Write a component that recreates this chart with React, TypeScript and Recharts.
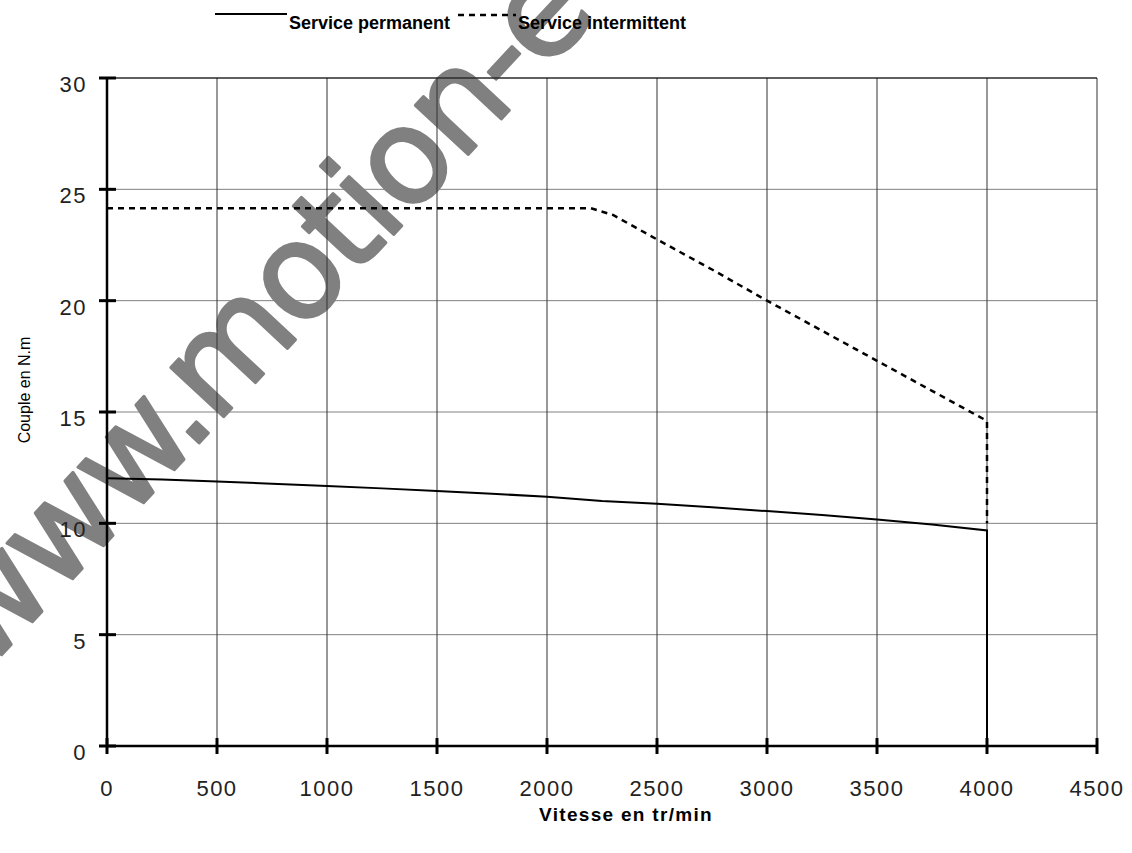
import { LineChart, Line, XAxis, YAxis, CartesianGrid, ReferenceLine, Label } from 'recharts';

// vitesse (tr/min) / couple (N.m)
const permSpeed = [0, 250, 500, 750, 1000, 1250, 1500, 1750, 2000, 2250, 2500, 2750, 3000, 3250, 3500, 3750, 4000, 4000];
const permTorque = [12.03, 11.97, 11.88, 11.78, 11.68, 11.57, 11.45, 11.33, 11.19, 11.0, 10.88, 10.72, 10.55, 10.37, 10.17, 9.95, 9.68, 0];

const interSpeed = [0, 500, 1000, 1500, 2000, 2200, 2300, 2400, 2500, 2750, 3000, 3250, 3500, 3750, 4000, 4000];
const interTorque = [24.15, 24.15, 24.15, 24.15, 24.15, 24.15, 23.85, 23.3, 22.75, 21.4, 20.0, 18.65, 17.3, 15.95, 14.6, 10.0];

const xTicks = [0, 500, 1000, 1500, 2000, 2500, 3000, 3500, 4000, 4500];
const yTicks = [0, 5, 10, 15, 20, 25, 30];

const permData = permSpeed.map((x, i) => ({ x, y: permTorque[i] }));
const interData = interSpeed.map((x, i) => ({ x, y: interTorque[i] }));

const FONT = '"Liberation Sans", Arial, sans-serif';
const tickFont = { fontFamily: FONT, fontSize: 22, letterSpacing: 1.5, fill: '#222' };

const XTick = ({ x, y, payload }: any) => (
  <g>
    <line x1={x} x2={x} y1={y - 8} y2={y + 8} stroke="#000" strokeWidth={3} />
    <text x={x} y={y + 50} textAnchor="middle" {...tickFont}>{payload.value}</text>
  </g>
);

const YTick = ({ x, y, payload }: any) => (
  <g>
    <line x1={x - 8} x2={x + 9} y1={y} y2={y} stroke="#000" strokeWidth={3} />
    <text x={x - 20} y={y + 14} textAnchor="end" {...tickFont}>{payload.value}</text>
  </g>
);

export default function App() {
  return (
    <div style={{ position: 'absolute', left: 0, top: 0, width: 1132, height: 853, background: '#fff', overflow: 'hidden' }}>
      {/* watermark, behind the chart */}
      <svg width={1132} height={853} style={{ position: 'absolute', left: 0, top: 0 }}>
        <g transform="translate(193,432) rotate(-47)" fill="#808080" stroke="#808080" strokeWidth={3} strokeLinejoin="round"
          fontFamily='"DejaVu Sans", sans-serif' fontSize={132} letterSpacing={-4}>
          <text x={20} y={12} textAnchor="end">www.</text>
          <text x={20} y={12}>motion-e</text>
        </g>
      </svg>

      {/* legend */}
      <svg width={1132} height={40} style={{ position: 'absolute', left: 0, top: 0 }}>
        <line x1={215} x2={287} y1={14} y2={14} stroke="#000" strokeWidth={2} />
        <text x={289} y={29} fontFamily={FONT} fontSize={18} fontWeight="bold" fill="#000">Service permanent</text>
        <line x1={458} x2={516} y1={15} y2={15} stroke="#000" strokeWidth={2.5} strokeDasharray="6 5" />
        <text x={518} y={29} fontFamily={FONT} fontSize={18} fontWeight="bold" fill="#000">Service intermittent</text>
      </svg>

      <div style={{ position: 'absolute', left: 0, top: 0 }}>
        <LineChart width={1132} height={853} margin={{ top: 78, right: 35, bottom: 0, left: 47 }}>
          <CartesianGrid vertical={false} stroke="#808080" strokeWidth={1} />
          <CartesianGrid horizontal={false} stroke="#333" strokeWidth={1} />
          <ReferenceLine y={30} stroke="#000" strokeWidth={1} />
          <XAxis
            dataKey="x"
            type="number"
            domain={[0, 4500]}
            ticks={xTicks}
            height={107}
            tickSize={0}
            tickMargin={0}
            tickLine={false}
            axisLine={{ stroke: '#000', strokeWidth: 2.5 }}
            tick={<XTick />}
            interval={0}
          >
            <Label
              content={() => (
                <text x={626} y={821} textAnchor="middle" fontFamily={FONT} fontSize={19} letterSpacing={1.3} fontWeight="bold" fill="#000">
                  Vitesse en tr/min
                </text>
              )}
            />
          </XAxis>
          <YAxis
            type="number"
            domain={[0, 30]}
            ticks={yTicks}
            width={60}
            tickSize={0}
            tickMargin={0}
            tickLine={false}
            axisLine={{ stroke: '#000', strokeWidth: 2.5 }}
            tick={<YTick />}
            interval={0}
          >
            <Label
              content={() => (
                <text x={30} y={390} transform="rotate(-90 30 390)" textAnchor="middle" fontFamily={FONT} fontSize={16} fill="#000">
                  Couple en N.m
                </text>
              )}
            />
          </YAxis>
          <Line data={interData} dataKey="y" type="linear" stroke="#000" strokeWidth={2.5} strokeDasharray="6 5" dot={false} isAnimationActive={false} />
          <Line data={permData} dataKey="y" type="linear" stroke="#000" strokeWidth={2} dot={false} isAnimationActive={false} />
        </LineChart>
      </div>
    </div>
  );
}
